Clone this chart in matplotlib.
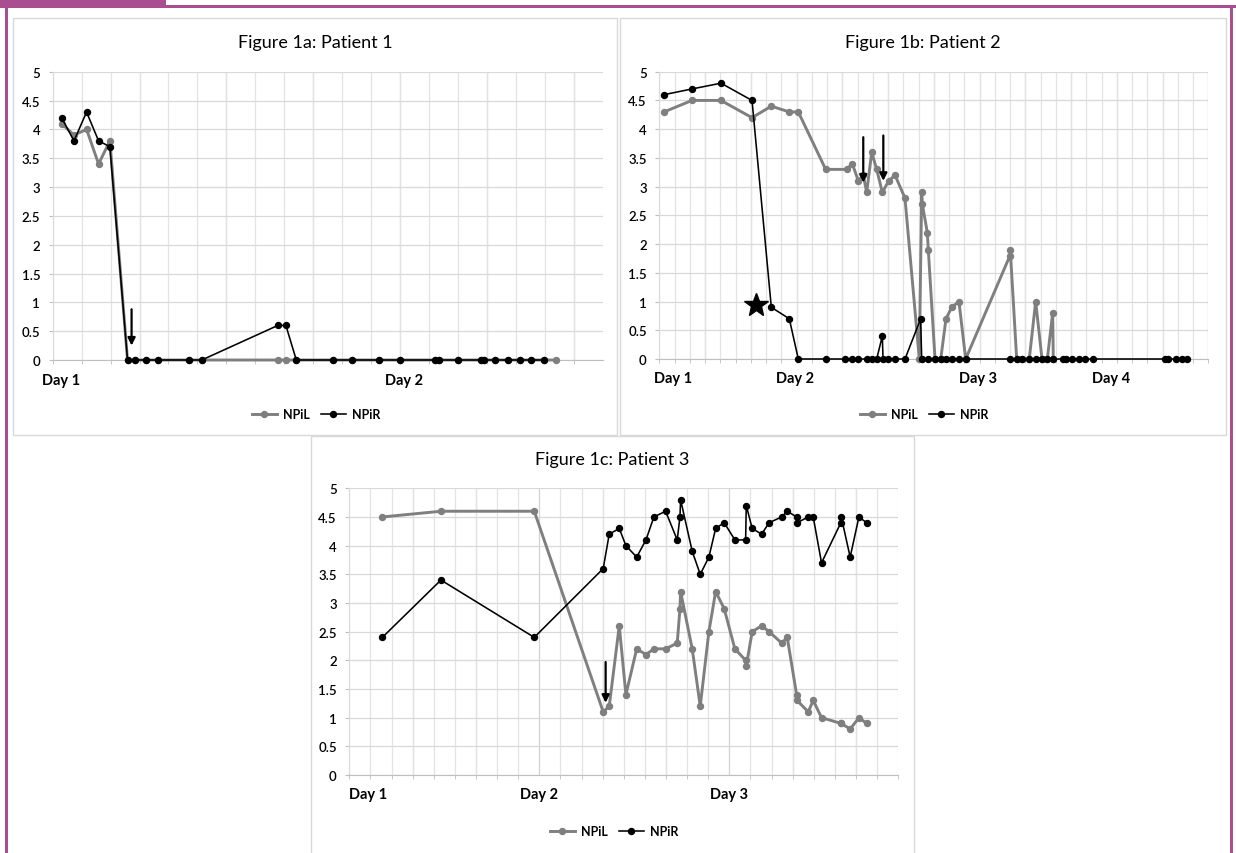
import matplotlib
matplotlib.use('Agg')
import matplotlib.pyplot as plt
import numpy as np
from matplotlib.patches import Rectangle
from matplotlib.ticker import FixedLocator, FuncFormatter

plt.rcParams['font.family'] = ['Lato', 'DejaVu Sans']

# ---- data (hours since start of monitoring, NPi value) ----
days_a = ['Day 1', 'Day 2']
day_pos_a = [0.57, 24.3]
time_a_r = [0.62, 1.47, 2.34, 3.17, 3.95, 5.17, 5.66, 6.48, 7.28, 9.42, 10.30, 15.56, 16.11, 16.83,
            19.35, 20.69, 22.53, 24.02, 26.43, 26.71, 28.0, 29.56, 29.79, 30.57, 31.49, 32.3, 33.08, 33.95]
npir_a = [4.2, 3.8, 4.3, 3.8, 3.7, 0, 0, 0, 0, 0, 0, 0.6, 0.6, 0,
          0, 0, 0, 0, 0, 0, 0, 0, 0, 0, 0, 0, 0, 0]
time_a_l = [0.62, 1.47, 2.34, 3.17, 3.95, 5.17, 5.66, 6.48, 7.28, 9.42, 10.30, 15.56, 16.11, 16.83,
            19.35, 20.69, 22.53, 24.02, 26.43, 26.71, 28.0, 29.56, 29.79, 30.57, 31.49, 32.3, 33.08, 33.95, 34.78]
npil_a = [4.1, 3.9, 4.0, 3.4, 3.8, 0, 0, 0, 0, 0, 0, 0, 0, 0,
          0, 0, 0, 0, 0, 0, 0, 0, 0, 0, 0, 0, 0, 0, 0]
arrows_a = [(5.45, 0.88, 0.25)]

days_b = ['Day 1', 'Day 2', 'Day 3', 'Day 4']
day_pos_b = [1.8, 17.8, 41.8, 59.3]
time_b_r = [0.62, 4.29, 8.09, 12.16, 14.69, 17.05, 18.23, 21.82, 24.35, 25.27, 26.10, 27.20, 27.86, 28.51,
            29.25, 29.34, 30.03, 30.91, 32.22, 34.28, 34.41, 35.28, 36.16, 36.91, 37.60, 38.43, 39.30, 40.18,
            45.99, 46.87, 47.61, 48.52, 49.36, 50.19, 50.89, 51.67, 52.91, 53.34, 54.13, 55.08, 55.79, 56.92,
            66.32, 66.75, 67.76, 68.51, 69.25]
npir_b = [4.6, 4.7, 4.8, 4.5, 0.9, 0.7, 0, 0, 0, 0, 0, 0, 0, 0,
          0.4, 0, 0, 0, 0, 0.7, 0, 0, 0, 0, 0, 0, 0, 0,
          0, 0, 0, 0, 0, 0, 0, 0, 0, 0, 0, 0, 0, 0,
          0, 0, 0, 0, 0]
time_b_l = [0.62, 4.29, 8.09, 12.16, 14.69, 17.05, 18.23, 21.82,
            24.58, 25.31, 26.10, 26.75, 27.20, 27.86, 28.51, 29.25, 30.09, 30.91, 32.22,
            34.10, 34.41, 34.49, 35.15, 35.28,
            36.16, 36.91, 37.60, 38.35, 39.30, 40.18,
            45.99, 46.03, 46.87, 47.61, 48.52, 49.36, 50.19, 50.89, 51.59, 51.67]
npil_b = [4.3, 4.5, 4.5, 4.2, 4.4, 4.3, 4.3, 3.3,
          3.3, 3.4, 3.1, 3.2, 2.9, 3.6, 3.3, 2.9, 3.1, 3.2, 2.8,
          0, 2.9, 2.7, 2.2, 1.9,
          0, 0, 0.7, 0.9, 1.0, 0,
          1.8, 1.9, 0, 0, 0, 1.0, 0, 0, 0.8, 0]
arrows_b = [(26.75, 3.86, 3.07), (29.38, 3.89, 3.10)]
star_b = (12.68, 0.94)

days_c = ['Day 1', 'Day 2', 'Day 3']
day_pos_c = [1.8, 18.0, 36.0]
time_c = [3.13, 8.68, 17.52, 24.05, 24.62, 25.57, 26.2, 27.22, 28.10, 28.85, 29.96, 31.06, 31.32, 31.38,
          32.48, 33.24, 34.06, 34.70, 35.51, 36.52, 37.54, 37.6, 38.16, 39.05, 39.77, 40.95, 41.48,
          42.37, 42.42, 43.47, 43.94, 44.73, 46.56, 46.6, 47.44, 48.27, 49.0]
npir_c = [2.4, 3.4, 2.4, 3.6, 4.2, 4.3, 4.0, 3.8, 4.1, 4.5, 4.6, 4.1, 4.5, 4.8,
          3.9, 3.5, 3.8, 4.3, 4.4, 4.1, 4.1, 4.7, 4.3, 4.2, 4.4, 4.5, 4.6,
          4.5, 4.4, 4.5, 4.5, 3.7, 4.4, 4.5, 3.8, 4.5, 4.4]
npil_c = [4.5, 4.6, 4.6, 1.1, 1.2, 2.6, 1.4, 2.2, 2.1, 2.2, 2.2, 2.3, 2.9, 3.2,
          2.2, 1.2, 2.5, 3.2, 2.9, 2.2, 2.0, 1.9, 2.5, 2.6, 2.5, 2.3, 2.4,
          1.4, 1.3, 1.1, 1.3, 1.0, 0.9, 0.9, 0.8, 1.0, 0.9]
arrows_c = [(24.28, 1.97, 1.26)]

W, H = 1236, 854
PURPLE = '#a94e91'
GRAY = '#7f7f7f'
fig = plt.figure(figsize=(W / 100, H / 100), dpi=100)


def fig_rect(x0, y0, x1, y1):
    # pixel box (top-left origin) -> figure fraction rect
    return [x0 / W, 1 - y1 / H, (x1 - x0) / W, (y1 - y0) / H]


def box(x0, y0, x1, y1, **kw):
    r = fig_rect(x0, y0, x1, y1)
    fig.add_artist(Rectangle((r[0], r[1]), r[2], r[3], transform=fig.transFigure, **kw))


# chart frames
box(13, 19, 617, 436, fill=False, ec='#d9d9d9', lw=1)
box(620, 19, 1226, 436, fill=False, ec='#d9d9d9', lw=1)
box(311, 437, 914, 860, fill=False, ec='#d9d9d9', lw=1)

# purple page border
box(0, 0, 166, 8, fc=PURPLE, ec='none')
box(0, 6, W, 9, fc=PURPLE, ec='none')
box(5, 0, 8, H, fc=PURPLE, ec='none')
box(1230, 6, 1233, H, fc=PURPLE, ec='none')


def panel(rect, xmax, grid_end, days, day_pos, t_l, npil, t_r, npir, arrows,
          title, title_xy, legend_xy):
    ax = fig.add_axes(fig_rect(*rect))
    ax.plot(t_l, npil, color=GRAY, lw=2.1, marker='o', ms=4.3, label='NPiL', zorder=3, clip_on=False)
    ax.plot(t_r, npir, color='black', lw=1.15, marker='o', ms=4.3, label='NPiR', zorder=4, clip_on=False)
    ax.set_xlim(0, xmax)
    ax.set_ylim(0, 5)

    # grid: horizontal every 0.5, vertical every 2 h, darker every 6 h
    ax.set_yticks(np.arange(0, 5.01, 0.5))
    ax.yaxis.set_major_formatter(FuncFormatter(lambda v, p: f'{v:g}'))
    ax.grid(axis='y', color='#d9d9d9', lw=0.9)
    ax.xaxis.set_minor_locator(FixedLocator(np.arange(0, grid_end + 0.1, 2)))
    ax.grid(axis='x', which='minor', color='#e3e3e3', lw=0.9)
    for g in np.arange(6, grid_end + 0.1, 6):
        ax.axvline(g, color='#d2d2d2', lw=0.9, zorder=0.5)
    ax.set_axisbelow(True)

    ax.set_xticks(day_pos)
    ax.set_xticklabels(days, fontweight='bold', fontsize=10.5)
    ax.tick_params(axis='x', which='major', length=0, pad=9)
    ax.tick_params(axis='x', which='minor', length=3, color='#bfbfbf')
    ax.tick_params(axis='y', length=3, color='#bfbfbf', labelsize=9.5, pad=6)
    for lab in ax.get_yticklabels():
        lab.set_fontweight('semibold')

    for s in ['top', 'right']:
        ax.spines[s].set_visible(False)
    ax.spines['left'].set_color('#d9d9d9')
    ax.spines['bottom'].set_color('#bfbfbf')

    for x, top, tip in arrows:
        ax.annotate('', xy=(x, tip), xytext=(x, top),
                    arrowprops=dict(arrowstyle='-|>', color='black', lw=1.6,
                                    mutation_scale=11, shrinkA=0, shrinkB=0), zorder=6)

    fig.text(title_xy[0] / W, 1 - title_xy[1] / H, title, ha='center', va='center', fontsize=13)
    h, l = ax.get_legend_handles_labels()
    fig.legend(h, l, loc='center', bbox_to_anchor=(legend_xy[0] / W, 1 - legend_xy[1] / H),
               ncol=2, frameon=False, prop=dict(weight='bold', size=9),
               handlelength=2.0, handletextpad=0.5, columnspacing=0.9)
    return ax


panel((52.7, 72.7, 602.7, 361), 38, 36, days_a, day_pos_a, time_a_l, npil_a, time_a_r, npir_a,
      arrows_a, 'Figure 1a: Patient 1', (315, 43), (316, 415))
ax_b = panel((659.3, 72.7, 1208.3, 360), 72, 72, days_b, day_pos_b, time_b_l, npil_b, time_b_r, npir_b,
             arrows_b, 'Figure 1b: Patient 2', (923, 43), (924, 415))
ax_b.plot(star_b[0], star_b[1], marker='*', color='black', ms=18, zorder=7)
panel((349.3, 489.3, 898.3, 776), 52, 52, days_c, day_pos_c, time_c, npil_c, time_c, npir_c,
      arrows_c, 'Figure 1c: Patient 3', (612, 460), (614, 832))

fig.savefig('out.png', dpi=100)
